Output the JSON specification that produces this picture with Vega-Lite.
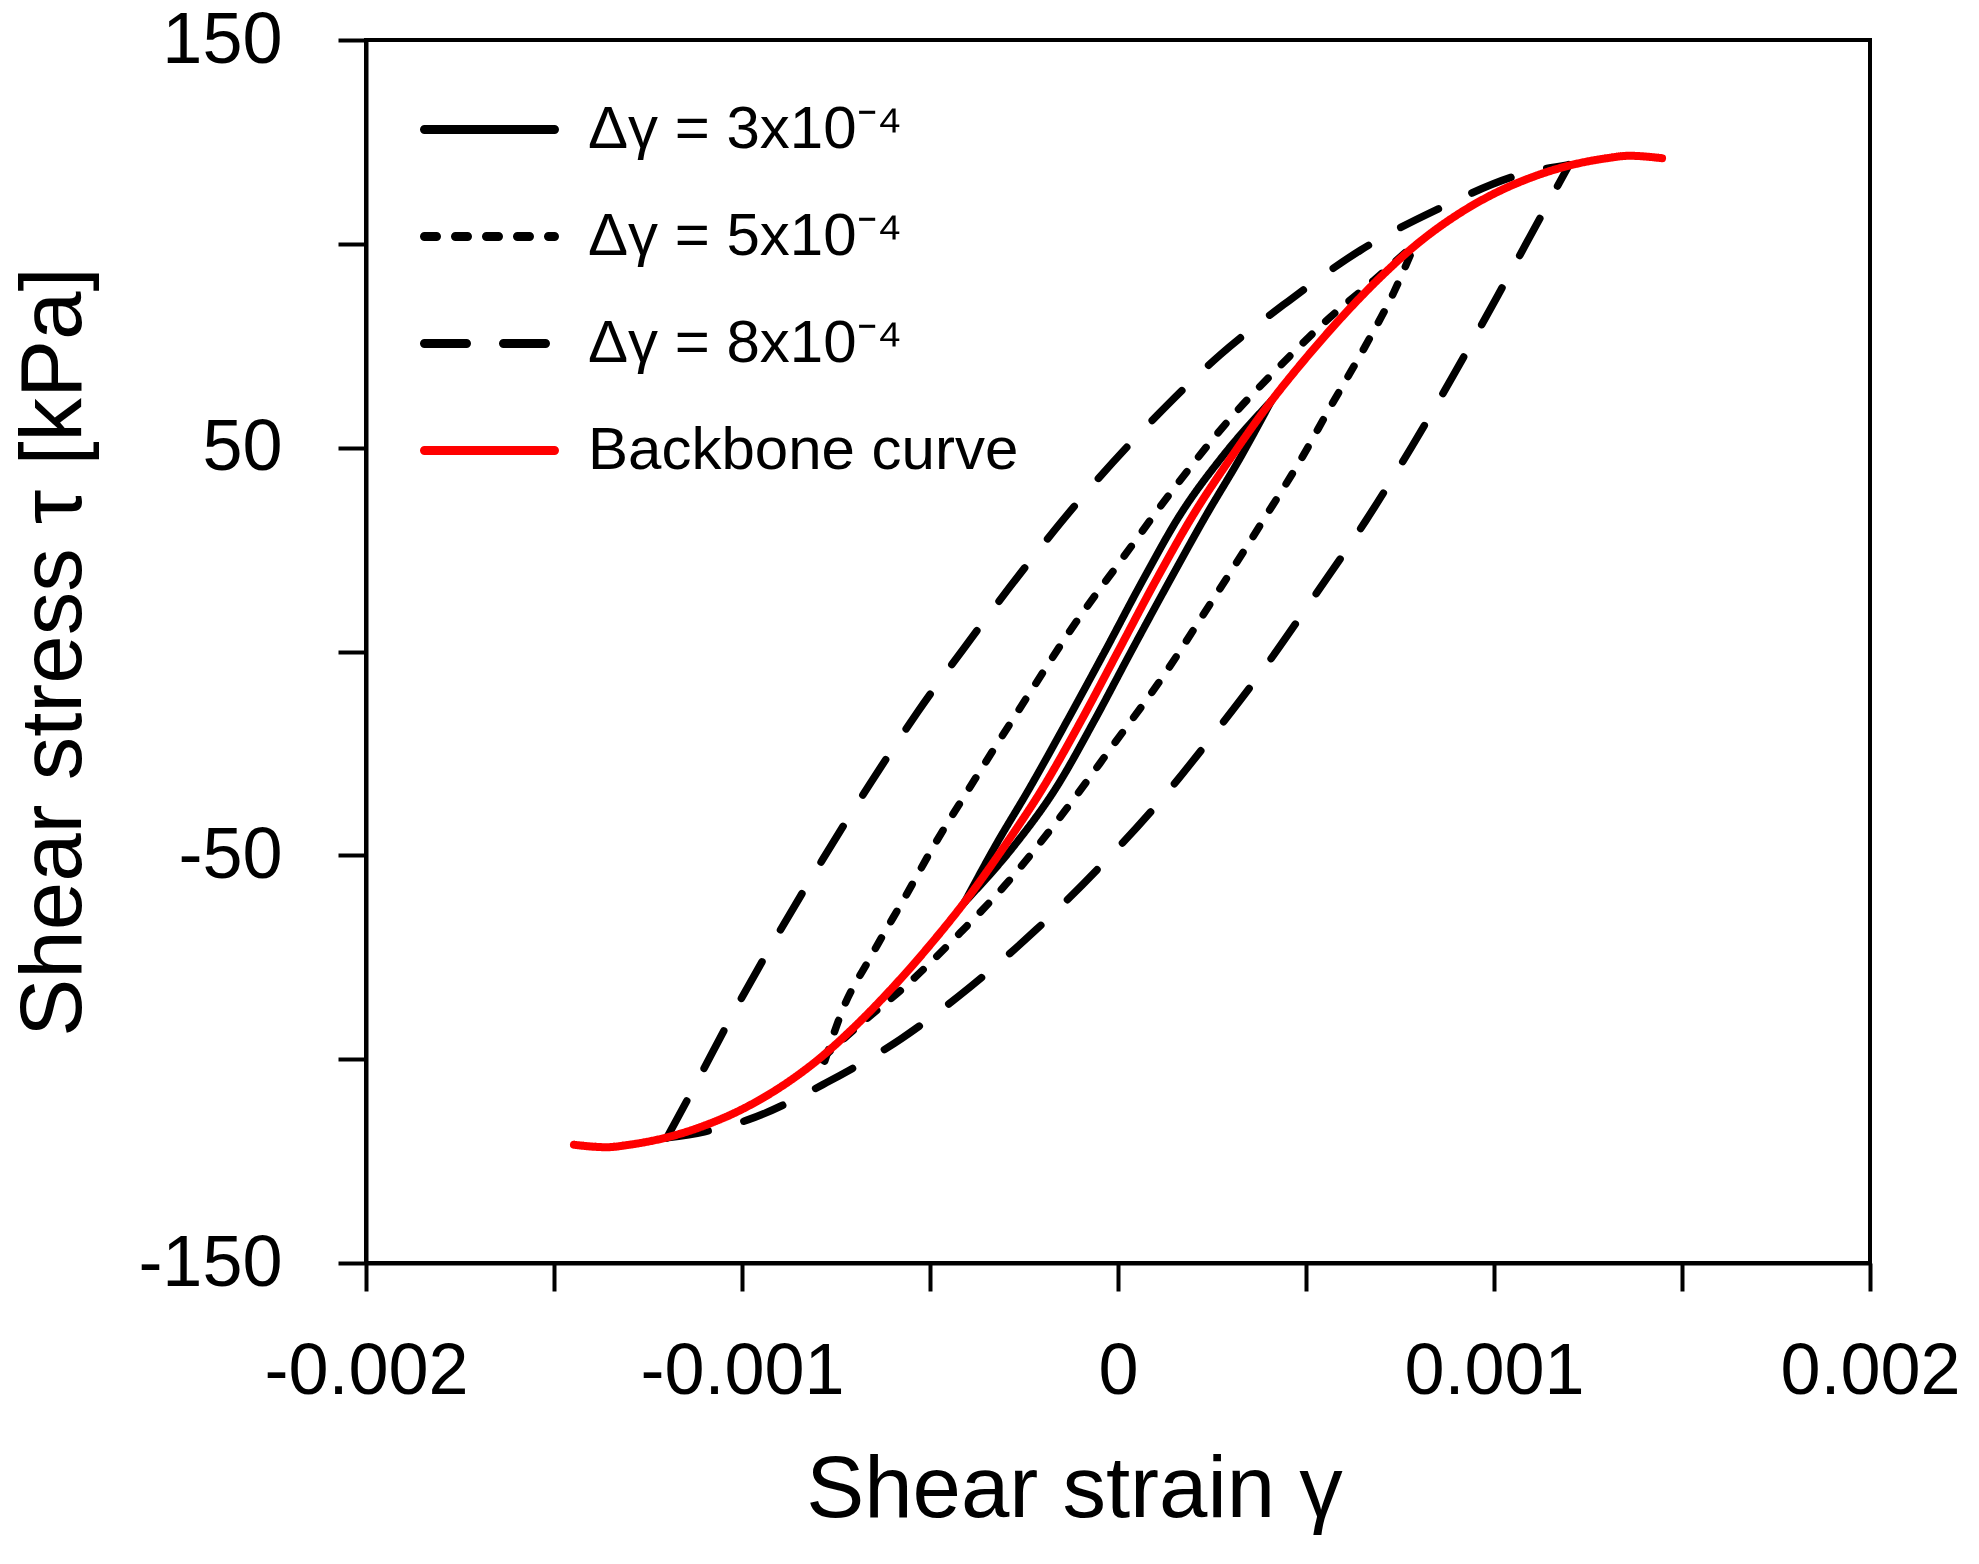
{
 "$schema": "https://vega.github.io/schema/vega-lite/v6.json",
 "width": 1504,
 "height": 1223,
 "autosize": {"type": "none"},
 "padding": {"left": 366, "top": 40, "right": 109, "bottom": 301},
 "background": "white",
 "config": {
  "font": "Liberation Sans",
  "view": {"stroke": "black", "strokeWidth": 4},
  "locale": {"number": {"decimal": ".", "thousands": ",", "grouping": [3], "currency": ["$", ""], "minus": "-"}},
  "axis": {"grid": false, "domainColor": "black", "domainWidth": 4, "tickColor": "black", "tickWidth": 4, "tickSize": 28, "labelColor": "black", "labelFont": "Liberation Sans", "labelFontSize": 72, "labelLimit": 0, "titleFont": "Liberation Sans", "titleFontSize": 87, "titleFontWeight": "normal", "titleColor": "black", "labelOverlap": false, "labelFlush": false, "labelBound": false}
 },
 "data": {"values": [
  {"s":"Backbone curve","b":"m","g":-0.001447,"t":-121},
  {"s":"Backbone curve","b":"m","g":-0.00136,"t":-121.6},
  {"s":"Backbone curve","b":"m","g":-0.0013,"t":-121},
  {"s":"Backbone curve","b":"m","g":-0.0012,"t":-119.2},
  {"s":"Backbone curve","b":"m","g":-0.0011,"t":-116.3},
  {"s":"Backbone curve","b":"m","g":-0.001,"t":-112.3},
  {"s":"Backbone curve","b":"m","g":-0.0009,"t":-107},
  {"s":"Backbone curve","b":"m","g":-0.0008,"t":-100.3},
  {"s":"Backbone curve","b":"m","g":-0.0007,"t":-92},
  {"s":"Backbone curve","b":"m","g":-0.0006,"t":-82.5},
  {"s":"Backbone curve","b":"m","g":-0.0005,"t":-72},
  {"s":"Backbone curve","b":"m","g":-0.0004,"t":-60.5},
  {"s":"Backbone curve","b":"m","g":-0.0003,"t":-47.5},
  {"s":"Backbone curve","b":"m","g":-0.0002,"t":-33.5},
  {"s":"Backbone curve","b":"m","g":-0.0001,"t":-17.3},
  {"s":"Backbone curve","b":"m","g":0,"t":0},
  {"s":"Backbone curve","b":"m","g":0.0001,"t":17.3},
  {"s":"Backbone curve","b":"m","g":0.0002,"t":33.5},
  {"s":"Backbone curve","b":"m","g":0.0003,"t":47.5},
  {"s":"Backbone curve","b":"m","g":0.0004,"t":60.5},
  {"s":"Backbone curve","b":"m","g":0.0005,"t":72},
  {"s":"Backbone curve","b":"m","g":0.0006,"t":82.5},
  {"s":"Backbone curve","b":"m","g":0.0007,"t":92},
  {"s":"Backbone curve","b":"m","g":0.0008,"t":100.3},
  {"s":"Backbone curve","b":"m","g":0.0009,"t":107},
  {"s":"Backbone curve","b":"m","g":0.001,"t":112.3},
  {"s":"Backbone curve","b":"m","g":0.0011,"t":116.3},
  {"s":"Backbone curve","b":"m","g":0.0012,"t":119.2},
  {"s":"Backbone curve","b":"m","g":0.0013,"t":121},
  {"s":"Backbone curve","b":"m","g":0.00136,"t":121.6},
  {"s":"Backbone curve","b":"m","g":0.001447,"t":121},

  {"s":"Δγ = 3x10⁻⁴","b":"u","g":-0.000408,"t":-61.5},
  {"s":"Δγ = 3x10⁻⁴","b":"u","g":-0.000325,"t":-47.5},
  {"s":"Δγ = 3x10⁻⁴","b":"u","g":-0.000235,"t":-33.5},
  {"s":"Δγ = 3x10⁻⁴","b":"u","g":-0.000137,"t":-17.3},
  {"s":"Δγ = 3x10⁻⁴","b":"u","g":-0.000035,"t":0},
  {"s":"Δγ = 3x10⁻⁴","b":"u","g":0.000065,"t":17.3},
  {"s":"Δγ = 3x10⁻⁴","b":"u","g":0.000165,"t":33.5},
  {"s":"Δγ = 3x10⁻⁴","b":"u","g":0.000275,"t":47.5},
  {"s":"Δγ = 3x10⁻⁴","b":"u","g":0.000408,"t":61.5},
  {"s":"Δγ = 3x10⁻⁴","b":"l","g":-0.000408,"t":-61.5},
  {"s":"Δγ = 3x10⁻⁴","b":"l","g":-0.000275,"t":-47.5},
  {"s":"Δγ = 3x10⁻⁴","b":"l","g":-0.000165,"t":-33.5},
  {"s":"Δγ = 3x10⁻⁴","b":"l","g":-0.000065,"t":-17.3},
  {"s":"Δγ = 3x10⁻⁴","b":"l","g":0.000035,"t":0},
  {"s":"Δγ = 3x10⁻⁴","b":"l","g":0.000137,"t":17.3},
  {"s":"Δγ = 3x10⁻⁴","b":"l","g":0.000235,"t":33.5},
  {"s":"Δγ = 3x10⁻⁴","b":"l","g":0.000325,"t":47.5},
  {"s":"Δγ = 3x10⁻⁴","b":"l","g":0.000408,"t":61.5},

  {"s":"Δγ = 5x10⁻⁴","b":"u","g":-0.00078,"t":-100.5},
  {"s":"Δγ = 5x10⁻⁴","b":"u","g":-0.000733,"t":-88},
  {"s":"Δγ = 5x10⁻⁴","b":"u","g":-0.000657,"t":-74.8},
  {"s":"Δγ = 5x10⁻⁴","b":"u","g":-0.00056,"t":-59.2},
  {"s":"Δγ = 5x10⁻⁴","b":"u","g":-0.000487,"t":-47.2},
  {"s":"Δγ = 5x10⁻⁴","b":"u","g":-0.0004,"t":-34.2},
  {"s":"Δγ = 5x10⁻⁴","b":"u","g":-0.000314,"t":-21.6},
  {"s":"Δγ = 5x10⁻⁴","b":"u","g":-0.000221,"t":-8.2},
  {"s":"Δγ = 5x10⁻⁴","b":"u","g":-0.000128,"t":5},
  {"s":"Δγ = 5x10⁻⁴","b":"u","g":0.000014,"t":23.1},
  {"s":"Δγ = 5x10⁻⁴","b":"u","g":0.000157,"t":41},
  {"s":"Δγ = 5x10⁻⁴","b":"u","g":0.0003,"t":57.3},
  {"s":"Δγ = 5x10⁻⁴","b":"u","g":0.000424,"t":69.4},
  {"s":"Δγ = 5x10⁻⁴","b":"u","g":0.000562,"t":81.8},
  {"s":"Δγ = 5x10⁻⁴","b":"u","g":0.00068,"t":91},
  {"s":"Δγ = 5x10⁻⁴","b":"u","g":0.00079,"t":100},
  {"s":"Δγ = 5x10⁻⁴","b":"l","g":-0.00079,"t":-100},
  {"s":"Δγ = 5x10⁻⁴","b":"l","g":-0.00068,"t":-91},
  {"s":"Δγ = 5x10⁻⁴","b":"l","g":-0.000562,"t":-81.8},
  {"s":"Δγ = 5x10⁻⁴","b":"l","g":-0.000424,"t":-69.4},
  {"s":"Δγ = 5x10⁻⁴","b":"l","g":-0.0003,"t":-57.3},
  {"s":"Δγ = 5x10⁻⁴","b":"l","g":-0.000157,"t":-41},
  {"s":"Δγ = 5x10⁻⁴","b":"l","g":-0.000014,"t":-23.1},
  {"s":"Δγ = 5x10⁻⁴","b":"l","g":0.000128,"t":-5},
  {"s":"Δγ = 5x10⁻⁴","b":"l","g":0.000221,"t":8.2},
  {"s":"Δγ = 5x10⁻⁴","b":"l","g":0.000314,"t":21.6},
  {"s":"Δγ = 5x10⁻⁴","b":"l","g":0.0004,"t":34.2},
  {"s":"Δγ = 5x10⁻⁴","b":"l","g":0.000487,"t":47.2},
  {"s":"Δγ = 5x10⁻⁴","b":"l","g":0.00056,"t":59.2},
  {"s":"Δγ = 5x10⁻⁴","b":"l","g":0.000657,"t":74.8},
  {"s":"Δγ = 5x10⁻⁴","b":"l","g":0.000733,"t":88},
  {"s":"Δγ = 5x10⁻⁴","b":"l","g":0.00079,"t":100},

  {"s":"Δγ = 8x10⁻⁴","b":"u","g":-0.0012,"t":-119.3},
  {"s":"Δγ = 8x10⁻⁴","b":"u","g":-0.001128,"t":-107},
  {"s":"Δγ = 8x10⁻⁴","b":"u","g":-0.001019,"t":-88},
  {"s":"Δγ = 8x10⁻⁴","b":"u","g":-0.000904,"t":-69.3},
  {"s":"Δγ = 8x10⁻⁴","b":"u","g":-0.000786,"t":-51.1},
  {"s":"Δγ = 8x10⁻⁴","b":"u","g":-0.000662,"t":-32.8},
  {"s":"Δγ = 8x10⁻⁴","b":"u","g":-0.000534,"t":-15},
  {"s":"Δγ = 8x10⁻⁴","b":"u","g":-0.000397,"t":2.4},
  {"s":"Δγ = 8x10⁻⁴","b":"u","g":-0.000256,"t":19.6},
  {"s":"Δγ = 8x10⁻⁴","b":"u","g":-0.00011,"t":36.3},
  {"s":"Δγ = 8x10⁻⁴","b":"u","g":0.000104,"t":57.9},
  {"s":"Δγ = 8x10⁻⁴","b":"u","g":0.000272,"t":72.8},
  {"s":"Δγ = 8x10⁻⁴","b":"u","g":0.000454,"t":86},
  {"s":"Δγ = 8x10⁻⁴","b":"u","g":0.000646,"t":98.5},
  {"s":"Δγ = 8x10⁻⁴","b":"u","g":0.000848,"t":108.4},
  {"s":"Δγ = 8x10⁻⁴","b":"u","g":0.001074,"t":117.1},
  {"s":"Δγ = 8x10⁻⁴","b":"u","g":0.0012,"t":119.4},
  {"s":"Δγ = 8x10⁻⁴","b":"l","g":-0.0012,"t":-119.3},
  {"s":"Δγ = 8x10⁻⁴","b":"l","g":-0.0011,"t":-117.8},
  {"s":"Δγ = 8x10⁻⁴","b":"l","g":-0.000985,"t":-114.9},
  {"s":"Δγ = 8x10⁻⁴","b":"l","g":-0.000776,"t":-105.8},
  {"s":"Δγ = 8x10⁻⁴","b":"l","g":-0.000577,"t":-95},
  {"s":"Δγ = 8x10⁻⁴","b":"l","g":-0.000392,"t":-82.2},
  {"s":"Δγ = 8x10⁻⁴","b":"l","g":-0.000216,"t":-68.1},
  {"s":"Δγ = 8x10⁻⁴","b":"l","g":-0.000048,"t":-52.8},
  {"s":"Δγ = 8x10⁻⁴","b":"l","g":0.000107,"t":-37.2},
  {"s":"Δγ = 8x10⁻⁴","b":"l","g":0.000253,"t":-20.5},
  {"s":"Δγ = 8x10⁻⁴","b":"l","g":0.000395,"t":-3.3},
  {"s":"Δγ = 8x10⁻⁴","b":"l","g":0.000528,"t":14.3},
  {"s":"Δγ = 8x10⁻⁴","b":"l","g":0.000657,"t":31.8},
  {"s":"Δγ = 8x10⁻⁴","b":"l","g":0.000781,"t":50.2},
  {"s":"Δγ = 8x10⁻⁴","b":"l","g":0.000897,"t":68.6},
  {"s":"Δγ = 8x10⁻⁴","b":"l","g":0.00101,"t":87.3},
  {"s":"Δγ = 8x10⁻⁴","b":"l","g":0.001123,"t":106.4},
  {"s":"Δγ = 8x10⁻⁴","b":"l","g":0.0012,"t":119.4}
 ]},
 "encoding": {
  "x": {"field": "g", "type": "quantitative",
   "scale": {"domain": [-0.002, 0.002], "nice": false, "zero": false},
   "axis": {"values": [-0.002, -0.0015, -0.001, -0.0005, 0, 0.0005, 0.001, 0.0015, 0.002],
    "labelExpr": "abs(round(datum.value * 2000)) % 2 == 1 ? '' : replace(format(datum.value, '.3~f'), '−', '-')",
    "labelPadding": 45, "title": "Shear strain γ", "titlePadding": 40, "titleX": 708}},
  "y": {"field": "t", "type": "quantitative",
   "scale": {"domain": [-150, 150], "nice": false, "zero": false},
   "axis": {"values": [-150, -100, -50, 0, 50, 100, 150],
    "labelExpr": "abs(datum.value + 150) % 100 == 0 ? replace(format(datum.value, 'd'), '−', '-') : ''",
    "labelPadding": 56, "title": "Shear stress τ [kPa]", "titlePadding": 68}},
  "color": {"field": "s", "type": "nominal",
   "scale": {"domain": ["Δγ = 3x10⁻⁴", "Δγ = 5x10⁻⁴", "Δγ = 8x10⁻⁴", "Backbone curve"], "range": ["#000000", "#000000", "#000000", "#ff0000"]},
   "legend": {"title": null, "orient": "none", "legendX": 54, "legendY": 20, "symbolType": "stroke", "symbolSize": 16900, "symbolStrokeWidth": 9, "labelFontSize": 60, "labelFont": "Liberation Sans", "labelColor": "black", "labelOffset": 29, "rowPadding": 7, "padding": 0, "labelLimit": 800,
    "encode": {"symbols": {"update": {"strokeCap": {"value": "round"}}}}}},
  "strokeDash": {"field": "s", "type": "nominal",
   "scale": {"domain": ["Δγ = 3x10⁻⁴", "Δγ = 5x10⁻⁴", "Δγ = 8x10⁻⁴", "Backbone curve"], "range": [[1, 0], [12, 19], [42, 37], [1, 0]]},
   "legend": {"title": null, "orient": "none", "legendX": 54, "legendY": 20, "symbolType": "stroke", "symbolSize": 16900, "symbolStrokeWidth": 9, "labelFontSize": 60, "labelFont": "Liberation Sans", "labelColor": "black", "labelOffset": 29, "rowPadding": 7, "padding": 0, "labelLimit": 800,
    "encode": {"symbols": {"update": {"strokeCap": {"value": "round"}}}}}},
  "detail": {"field": "b", "type": "nominal"}
 },
 "layer": [
  {"transform": [{"filter": "datum.s != 'Backbone curve'"}],
   "mark": {"type": "line", "strokeWidth": 7.5, "strokeCap": "round", "interpolate": "monotone"}},
  {"transform": [{"filter": "datum.s == 'Backbone curve'"}],
   "mark": {"type": "line", "strokeWidth": 8, "strokeCap": "round", "interpolate": "monotone"}}
 ]
}
